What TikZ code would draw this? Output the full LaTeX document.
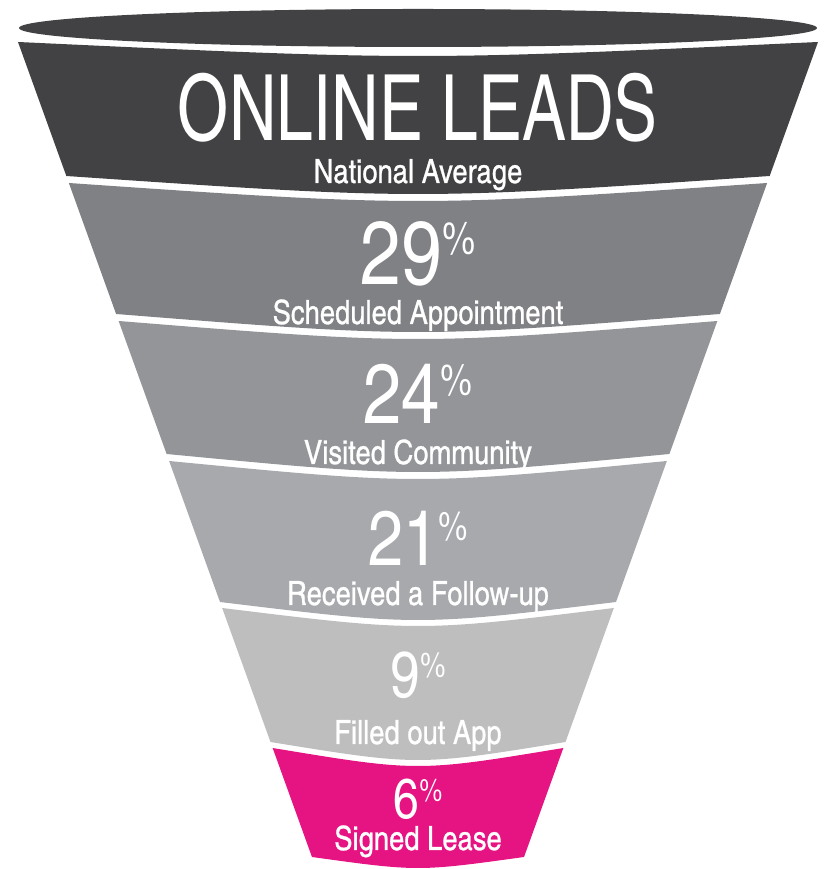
\documentclass[tikz,border=0pt]{standalone}
\usepackage{fontspec}
\setmainfont{TeX Gyre Heros}
\newfontfamily\cnfont{texgyreheroscn-regular.otf}
\newfontfamily\lblfont{texgyreheroscn-regular.otf}[FakeBold=0.8]
\newfontfamily\leadfont{texgyreheroscn-regular.otf}[FakeStretch=0.88]
\usetikzlibrary{calc}

\definecolor{funnelA}{RGB}{66, 65, 67}
\definecolor{funnelB}{RGB}{128, 129, 132}
\definecolor{funnelC}{RGB}{147, 149, 152}
\definecolor{funnelD}{RGB}{167, 169, 172}
\definecolor{funnelE}{RGB}{190, 190, 191}
\definecolor{leasepink}{RGB}{229, 20, 130}

% big number with a small raised percent sign
\newcommand{\pct}[3]{{\fontsize{#2pt}{#2pt}\selectfont #1}\raisebox{0.7\dimexpr#2pt-#3pt\relax}{\fontsize{#3pt}{#3pt}\selectfont\%}}

\begin{document}
\begin{tikzpicture}[
  lbl/.style={text=white, anchor=base, inner sep=0pt, font=\lblfont\fontsize{19}{19}\selectfont},
  num/.style={text=white, anchor=base, inner sep=0pt, font=\cnfont}
]
  \useasboundingbox (-8.36,0) rectangle (8.22,17.38);

  % rim on top
  \fill[funnelA] (0,16.82) ellipse [x radius=7.98, y radius=0.38];

  % bands: top y / bottom y / colour / top sag / bottom sag
  \foreach \yT/\yB/\col/\sT/\sB in {16.54/13.86/funnelA/0.28/0.36,
                                    13.72/11.10/funnelB/0.36/0.36,
                                    10.96/8.30/funnelC/0.36/0.36,
                                    8.16/5.34/funnelD/0.36/0.36,
                                    5.22/2.54/funnelE/0.36/0.36,
                                    2.42/0.24/leasepink/0.36/0.22} {
    \pgfmathsetmacro\wT{8-0.3607*(16.54-\yT)}
    \pgfmathsetmacro\wB{8-0.3607*(16.54-\yB)}
    \fill[\col] (-\wT,\yT) -- (-\wB,\yB)
      .. controls (0,{\yB-1.333*\sB}) .. (\wB,\yB) -- (\wT,\yT)
      .. controls (0,{\yT-1.333*\sT}) .. cycle;
  }

  % texts
  \node[text=white, anchor=base, inner sep=0pt, font=\leadfont\fontsize{52}{52}\selectfont] (title) at (0,14.56) {ONLINE LEADS};
  \node[lbl] (subtitle) at (0,13.72) {National Average};

  \node[num] (pctA) at (0,11.68) {\pct{29}{51}{26}};
  \node[lbl] (lblA) at (0,10.90) {Scheduled Appointment};

  \node[num] (pctB) at (0,8.90) {\pct{24}{48}{25}};
  \node[lbl] (lblB) at (0,8.10) {Visited Community};

  \node[num] (pctC) at (0,6.06) {\pct{21}{44}{23}};
  \node[lbl] (lblC) at (0,5.28) {Received a Follow-up};

  \node[num] (pctD) at (0,3.42) {\pct{9}{37}{20}};
  \node[lbl] (lblD) at (0,2.50) {Filled out App};

  \node[num] (pctE) at (0,1.00) {\pct{6}{32}{18}};
  \node[lbl] (lblE) at (0,0.38) {Signed Lease};
\end{tikzpicture}
\end{document}
